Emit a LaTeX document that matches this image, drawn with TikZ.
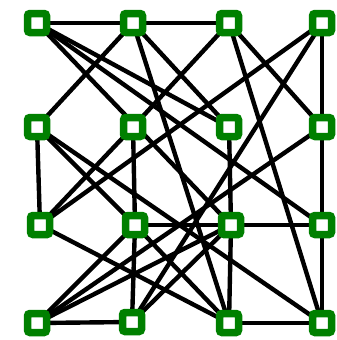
\documentclass[tikz,border=0pt]{standalone}
\definecolor{ngreen}{RGB}{0,128,0}
\pgfdeclarelayer{bg}
\pgfsetlayers{bg,main}
\tikzset{
  vbox/.style={draw=ngreen, line width=7.5pt, fill=white, rounded corners=2.5pt, minimum size=19pt, inner sep=0pt},
  edge/.style={draw=black, line width=4.4pt}
}
\begin{document}
\begin{tikzpicture}[x=1pt,y=-1pt]
\useasboundingbox (0,0) rectangle (337,340);
\node[vbox] (a1) at (37,23) {};
\node[vbox] (a2) at (133,23) {};
\node[vbox] (a3) at (229,23) {};
\node[vbox] (a4) at (322,23) {};
\node[vbox] (b1) at (37,127) {};
\node[vbox] (b2) at (133,127) {};
\node[vbox] (b3) at (229,127) {};
\node[vbox] (b4) at (322,127) {};
\node[vbox] (c1) at (40,225) {};
\node[vbox] (c2) at (135,225) {};
\node[vbox] (c3) at (231,225) {};
\node[vbox] (c4) at (322,225) {};
\node[vbox] (d1) at (37,323) {};
\node[vbox] (d2) at (132,322) {};
\node[vbox] (d3) at (229,323) {};
\node[vbox] (d4) at (322,323) {};
\begin{pgfonlayer}{bg}
\foreach \u/\v in {a1/a2,a2/a3,a1/b3,a1/c4,a1/c3,
  a2/b1,a2/d3,a2/b3,
  a3/b2,b2/c1,a3/b4,a3/d4,
  a4/b4,a4/c1,a4/d2,
  b1/c1,b1/c2,c2/d3,b1/d4,
  b2/c2,c2/d2,b3/c3,b4/c4,c4/d4,
  c2/c3,c3/c4,c3/d3,d1/d2,d3/d4,
  c1/d3,d1/c2,d1/b4,d1/c3,d2/c3}
  \draw[edge] (\u.center) -- (\v.center);
\end{pgfonlayer}
\end{tikzpicture}
\end{document}
